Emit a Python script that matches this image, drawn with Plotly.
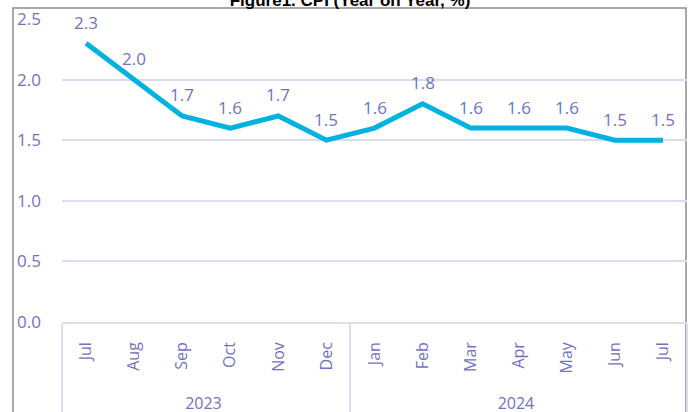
import plotly.graph_objects as go

years = ["2023"] * 6 + ["2024"] * 7
months = ["Jul", "Aug", "Sep", "Oct", "Nov", "Dec",
          "Jan", "Feb", "Mar", "Apr", "May", "Jun", "Jul"]
cpi = [2.3, 2.0, 1.7, 1.6, 1.7, 1.5, 1.6, 1.8, 1.6, 1.6, 1.6, 1.5, 1.5]
y_ticks = [0.0, 0.5, 1.0, 1.5, 2.0, 2.5]

# make repeated month names distinct for the multicategory axis ordering;
# a leading em space adds room between the month and year label rows
inner = []
seen = {}
for m in months:
    k = seen.get(m, 0)
    inner.append("\u2003" + m + "\u200b" * k)
    seen[m] = k + 1

W, H = 692, 412
L, R, T, B = 62, 5, 19, 90
PW, PH = W - L - R, H - T - B

purple = "#7272C0"
grid = "#DCDCF0"
font = "Open Sans"

fig = go.Figure(go.Scatter(
    x=[years, inner], y=cpi,
    mode="lines",
    line=dict(color="#00B2E2", width=5),
    hoverinfo="skip",
))

for i, v in enumerate(cpi):
    fig.add_annotation(x=i, y=v, text=f"{v:.1f}", showarrow=False,
                       xref="x", yref="y", yanchor="middle", yshift=21,
                       font=dict(family=font, size=17, color=purple))

def px(xp):
    return (xp - L) / PW

def py(yp):
    return (H - B - yp) / PH

fig.add_shape(type="rect", xref="paper", yref="paper",
              x0=px(13), x1=px(686), y0=py(430), y1=py(8),
              line=dict(color="#8C8C8C", width=1.5), fillcolor="rgba(0,0,0,0)",
              layer="below")

fig.update_layout(
    width=W, height=H,
    margin=dict(l=L, r=R, t=T, b=B, autoexpand=False),
    paper_bgcolor="white", plot_bgcolor="white",
    showlegend=False,
    title=dict(text="<b>Figure1. CPI (Year on Year, %)</b>",
               x=350 / W, xanchor="center", y=1.0, yanchor="middle",
               xref="container", yref="container",
               font=dict(family="Liberation Sans", size=17, color="black")),
    xaxis=dict(
        type="multicategory",
        automargin=False,
        range=[-0.5, len(cpi) - 0.5],
        tickangle=-90,
        tickfont=dict(family=font, size=16, color=purple),
        showgrid=False,
        showline=True, linecolor=grid, linewidth=1.5,
        ticks="",
        ticklabelstandoff=12,
        showdividers=True, dividercolor=grid, dividerwidth=1.5,
    ),
    yaxis=dict(
        automargin=False,
        range=[0, 2.5],
        tickvals=y_ticks,
        tickformat=".1f",
        tickfont=dict(family=font, size=17, color=purple),
        showgrid=True, gridcolor=grid, gridwidth=1.5,
        zeroline=False, showline=False,
        ticks="",
        ticklabelstandoff=20,
    ),
)

fig.write_html("out.html", config={"displayModeBar": False},
               post_script="document.body.style.margin='0px';")
